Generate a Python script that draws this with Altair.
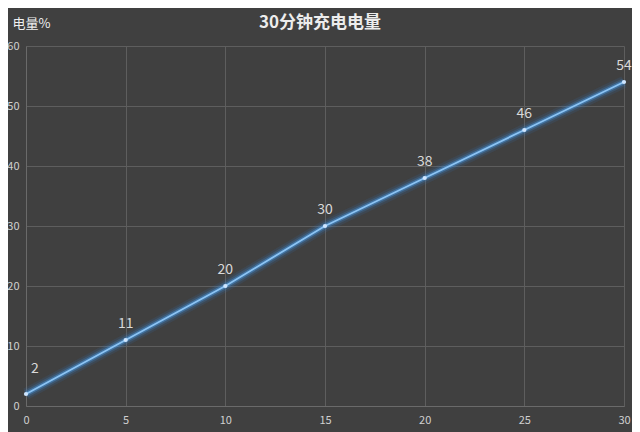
import altair as alt
import pandas as pd

minutes = [0, 5, 10, 15, 20, 25, 30]
charge = [2, 11, 20, 30, 38, 46, 54]
x_ticks = [0, 5, 10, 15, 20, 25, 30]
y_ticks = [0, 10, 20, 30, 40, 50, 60]

df = pd.DataFrame({"t": minutes, "p": charge})
df["first"] = df["t"] == 0

FONT = "Noto Sans CJK SC"
x = alt.X("t:Q", scale=alt.Scale(domain=[0, 30], nice=False),
          axis=alt.Axis(values=x_ticks, title=None, grid=True, ticks=False,
                        labelPadding=8, labelFlush=False))
y = alt.Y("p:Q", scale=alt.Scale(domain=[0, 60], nice=False),
          axis=alt.Axis(values=y_ticks, title="电量%", titleAngle=0, titleAlign="left",
                        titleBaseline="middle", titleX=-14, titleY=-23, grid=True,
                        ticks=False, labelPadding=7, labelFlush=False,
                        titleFont=FONT, titleFontSize=13, titleFontWeight="normal",
                        titleColor="#f0f0f0"))

base = alt.Chart(df)
glow3 = base.mark_line(color="#2f7fd0", strokeWidth=12, opacity=0.12).encode(x=x, y=y)
glow2 = base.mark_line(color="#3a8fe0", strokeWidth=8, opacity=0.2).encode(x=x, y=y)
glow1 = base.mark_line(color="#4aa0f0", strokeWidth=4.5, opacity=0.4).encode(x=x, y=y)
line = base.mark_line(color="#8cc4f4", strokeWidth=1.8).encode(x=x, y=y)
pts = base.mark_point(filled=True, color="#cfe6ff", size=18, opacity=1).encode(x=x, y=y)
labels = base.transform_filter("!datum.first").mark_text(
    dy=-16, fontSize=14, color="#d9d9d9", font=FONT).encode(x=x, y=y, text="p:Q")
label0 = base.transform_filter("datum.first").mark_text(
    dx=9, dy=-25, fontSize=14, color="#d9d9d9", font=FONT).encode(x=x, y=y, text="p:Q")

chart = alt.layer(glow3, glow2, glow1, line, pts, labels, label0).properties(
    width=598, height=360,
    title=alt.TitleParams("30分钟充电电量", font=FONT, fontSize=17, fontWeight="bold",
                          color="#ececec", anchor="middle", offset=-15, dx=-5),
    autosize=alt.AutoSizeParams(type="none"),
    padding={"left": 18, "top": 38, "right": 8, "bottom": 26},
    background="#404040",
).configure_view(stroke=None).configure_axis(
    gridColor="#5e5e5e", gridWidth=1, domainColor="#6a6a6a", domainWidth=1,
    labelColor="#d0d0d0", labelFont=FONT, labelFontSize=11,
)

chart.save("out.html", embed_options={"renderer": "svg", "actions": False})
